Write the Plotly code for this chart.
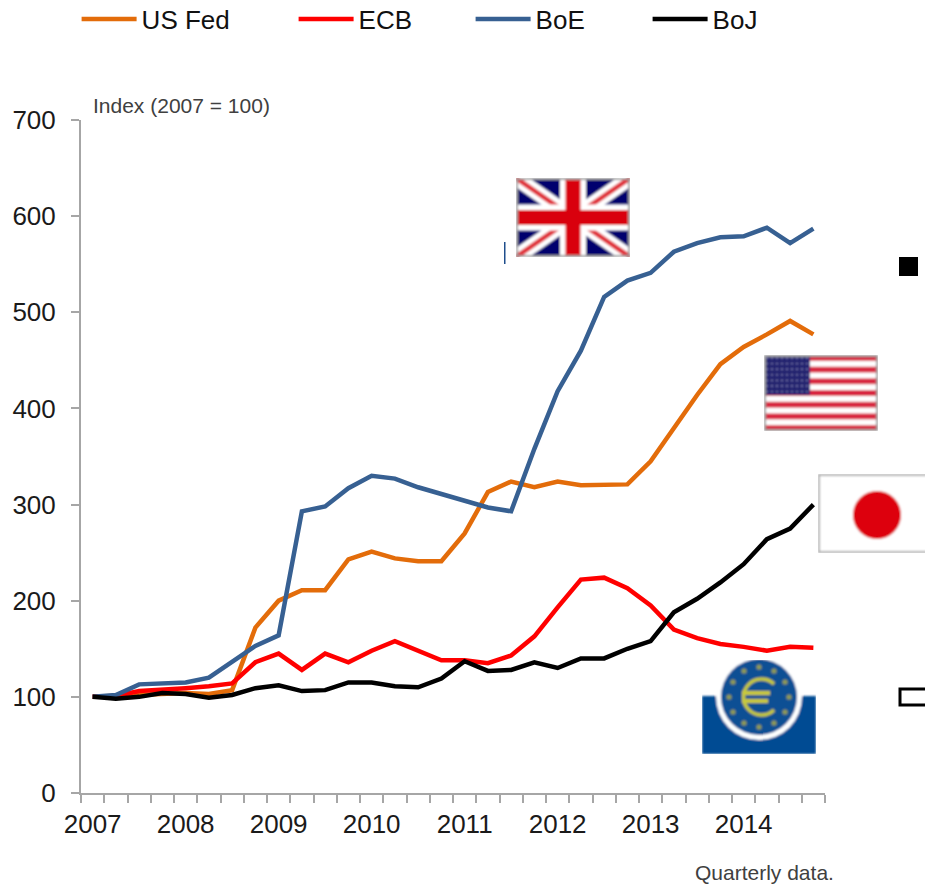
import base64
import math
import plotly.graph_objects as go

quarters = [f"{y}Q{q}" for y in range(2007, 2015) for q in range(1, 5)]
year_labels = ["2007", "", "", "", "2008", "", "", "", "2009", "", "", "", "2010", "", "", "",
               "2011", "", "", "", "2012", "", "", "", "2013", "", "", "", "2014", "", "", ""]
us_fed = [100, 101, 103, 104, 104, 103, 107, 172, 200, 211, 211, 243, 251, 244, 241, 241,
          270, 313, 324, 318, 324, 320, 320, 321, 345, 380, 414, 446, 464, 477, 491, 477]
ecb = [100, 101, 106, 107, 109, 111, 114, 136, 145, 128, 145, 136, 148, 158, 148, 138,
       138, 135, 143, 163, 193, 222, 224, 213, 195, 170, 161, 155, 152, 148, 152, 151]
boe = [100, 102, 113, 114, 115, 120, 137, 153, 164, 293, 298, 317, 330, 327, 318, 311,
       305, 297, 293, 358, 418, 460, 516, 533, 541, 563, 572, 578, 579, 588, 572, 587]
boj = [100, 98, 100, 104, 103, 99, 102, 109, 112, 106, 107, 115, 115, 111, 110, 119,
       137, 127, 128, 136, 130, 140, 140, 150, 158, 188, 202, 219, 238, 264, 275, 300]
series_names = ["US Fed", "ECB", "BoE", "BoJ"]
series_colors = ["#E36C0A", "#FF0000", "#376092", "#000000"]

W, H = 925, 885
L, R, T, B = 81, 825, 120, 793
legend_starts = [82, 299, 476, 653]
legend_ids = ["legend", "legend2", "legend3", "legend4"]


def px(x):
    return (x - L) / (R - L)


def py(y):
    return (B - y) / (B - T)


def uri(body, w, h):
    svg = (f'<svg xmlns="http://www.w3.org/2000/svg" width="{w}" height="{h}" viewBox="0 0 {w} {h}">'
           f'<defs><filter id="b"><feGaussianBlur stdDeviation="0.9"/></filter></defs>'
           f'<g filter="url(#b)">{body}</g></svg>')
    return "data:image/svg+xml;base64," + base64.b64encode(svg.encode()).decode()


def uk_flag():
    b = '<rect width="114" height="79" fill="#00006e"/>'
    b += '<path d="M0 0L114 79M114 0L0 79" stroke="#fff" stroke-width="15"/>'
    b += '<path d="M0 0L114 79M114 0L0 79" stroke="#e0303a" stroke-width="5"/>'
    b += '<path d="M57 0V79M0 39.5H114" stroke="#fff" stroke-width="26"/>'
    b += '<path d="M57 0V79M0 39.5H114" stroke="#d9000d" stroke-width="15"/>'
    b += '<rect x="1" y="1" width="112" height="77" fill="none" stroke="#999" stroke-width="2"/>'
    return uri(b, 114, 79)


def us_flag():
    b = '<rect width="114" height="76" fill="#fff"/>'
    for i in range(0, 13, 2):
        b += f'<rect y="{i * 76 / 13:.2f}" width="114" height="{76 / 13:.2f}" fill="#d8283f"/>'
    b += '<rect width="46" height="40" fill="#24246e"/>'
    for r in range(7):
        for c in range(9):
            b += f'<circle cx="{3 + c * 5}" cy="{3 + r * 5.6:.1f}" r="0.9" fill="#8f8fc0"/>'
    b += '<rect x="1" y="1" width="112" height="74" fill="none" stroke="#999" stroke-width="2"/>'
    return uri(b, 114, 76)


def jp_flag():
    b = '<rect width="114" height="79" fill="#fff"/>'
    b += '<circle cx="59" cy="41" r="24" fill="#dd0008"/>'
    b += '<rect x="1" y="1" width="112" height="77" fill="none" stroke="#aaa" stroke-width="2"/>'
    return uri(b, 114, 79)


def ecb_logo():
    b = '<rect y="36" width="114" height="58" fill="#004b93"/>'
    b += '<circle cx="57" cy="37" r="43" fill="#fff"/>'
    b += '<circle cx="57" cy="37" r="38" fill="#0a4f94"/>'
    for i in range(12):
        a = math.radians(i * 30)
        b += f'<circle cx="{57 + 30 * math.cos(a):.1f}" cy="{37 + 30 * math.sin(a):.1f}" r="2.6" fill="#8f9a55"/>'
    b += '<path d="M72 24A18 18 0 1 0 72 50" fill="none" stroke="#c9c93a" stroke-width="3.5"/>'
    b += '<path d="M40 33H68M40 41H66" stroke="#c9c93a" stroke-width="4"/>'
    return uri(b, 114, 94)


def place(source, x0, y0, x1, y1):
    return dict(source=source, xref="paper", yref="paper", x=px(x0), y=py(y0),
                sizex=(x1 - x0) / (R - L), sizey=(y1 - y0) / (B - T),
                xanchor="left", yanchor="top", sizing="stretch", layer="below")


def box(x0, y0, x1, y1, **kw):
    return dict(type="rect", xref="paper", yref="paper", x0=px(x0), x1=px(x1), y0=py(y0), y1=py(y1), **kw)


fig = go.Figure()
for name, values, color, lid in zip(series_names, [us_fed, ecb, boe, boj], series_colors, legend_ids):
    fig.add_trace(go.Scatter(x=quarters, y=values, name=name, legend=lid, mode="lines",
                             line=dict(color=color, width=4.5, shape="linear"),
                             hovertemplate="%{x}: %{y}<extra>" + name + "</extra>"))

legends = {
    lid: dict(orientation="h", xref="container", yref="container",
              x=(start - 5.4) / W, y=1 - 19 / H, xanchor="left", yanchor="middle", itemwidth=55,
              font=dict(family="Liberation Sans, Arial, sans-serif", size=26, color="#111111"),
              bgcolor="rgba(0,0,0,0)")
    for lid, start in zip(legend_ids, legend_starts)
}

axis_style = dict(ticks="outside", ticklen=8, tickwidth=1.5, tickcolor="#A6A6A6",
                  showline=True, linecolor="#A6A6A6", linewidth=2, showgrid=False, zeroline=False,
                  tickfont=dict(size=26, color="#1a1a1a"))

fig.update_layout(
    width=W, height=H, autosize=False,
    margin=dict(l=L, r=W - R, t=T, b=H - B, pad=0, autoexpand=False),
    paper_bgcolor="white", plot_bgcolor="white",
    font=dict(family="Liberation Sans, Arial, sans-serif", color="#111111"),
    showlegend=True,
    **legends,
    xaxis=dict(type="category", categoryorder="array", categoryarray=quarters,
               tickmode="array", tickvals=quarters, ticktext=year_labels, tickson="boundaries",
               tickangle=0, range=[-0.5, 31.5], ticklabelstandoff=7, **axis_style),
    yaxis=dict(range=[0, 700], tickmode="array", tickvals=[0, 100, 200, 300, 400, 500, 600, 700],
               ticklabelstandoff=10, **axis_style),
    images=[place(uk_flag(), 516, 178, 630, 257),
            place(us_flag(), 764, 355, 878, 431),
            place(jp_flag(), 818, 474, 932, 553),
            place(ecb_logo(), 702, 660, 816, 754)],
    shapes=[box(899, 257, 918, 276, fillcolor="black", line=dict(width=0)),
            box(900, 689, 930, 705, fillcolor="white", line=dict(color="black", width=3)),
            box(504, 242, 505.5, 264, fillcolor="#1f4e8c", line=dict(width=0))],
    annotations=[
        dict(text="Index (2007 = 100)", xref="paper", yref="paper", x=px(92), y=py(105),
             xanchor="left", yanchor="middle", showarrow=False, xshift=-1,
             font=dict(size=21, color="#404040")),
        dict(text="Quarterly data.", xref="paper", yref="paper", x=px(694), y=py(872),
             xanchor="left", yanchor="middle", showarrow=False, xshift=-1,
             font=dict(size=21, color="#404040")),
    ],
)

fig.write_html("out.html", config={"displayModeBar": False},
               post_script="document.body.style.margin='0';document.body.style.overflow='hidden';")
